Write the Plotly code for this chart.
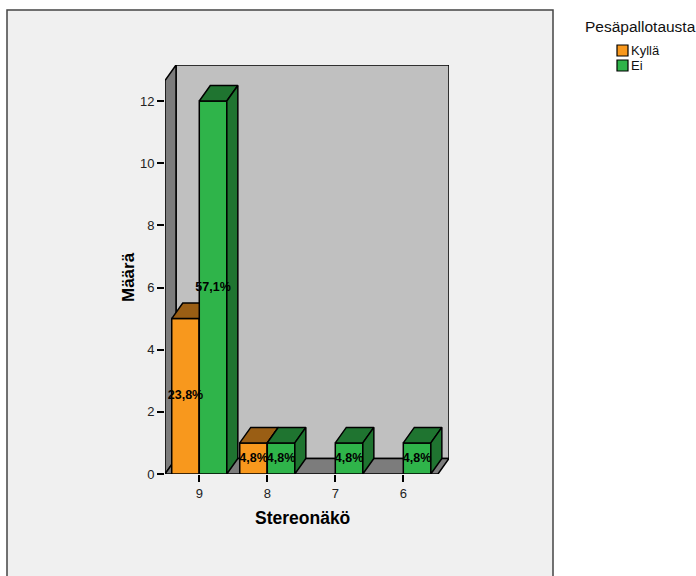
import plotly.graph_objects as go

# Data
categories = ["9", "8", "7", "6"]
kylla = [5, 1, 0, 0]
ei = [12, 1, 1, 1]
series_names = ["Kyllä", "Ei"]

total = sum(kylla) + sum(ei)

# Styling
W, H = 696, 576
PX_L, PX_R, PX_T, PX_B = 165, 449, 65, 474      # plot area in pixels
X0, X1 = -0.504, 3.672                           # x range (category units)
Y0, Y1 = 0.0, 13.16                              # y range (counts)
DX, DY = 0.162, 0.5                              # depth offset for 3D look
BAR_W = 0.405
FONT = "Liberation Sans, Arial"

front_col = ["#f8981d", "#2fb44a"]
dark_col = ["#9a5e14", "#1f7430"]
EDGE = dict(color="black", width=1.5)

fig = go.Figure()


def poly(xs, ys, color, line=EDGE):
    fig.add_trace(go.Scatter(
        x=list(xs) + [xs[0]], y=list(ys) + [ys[0]],
        mode="lines", fill="toself", fillcolor=color, line=line,
        hoverinfo="skip", showlegend=False, cliponaxis=False))


# Walls and floor
poly([X0 + DX, X1, X1, X0 + DX], [DY, DY, Y1, Y1], "#c0c0c0")
poly([X0, X0 + DX, X0 + DX, X0], [0, DY, Y1, Y1 - DY], "#7c7c7c")
poly([X0, X1 - DX, X1, X0 + DX], [0, 0, DY, DY], "#7c7c7c")

# 3D bars: orange to the left of each category centre, green to the right
labels_x, labels_y, labels_t = [], [], []
for i, _ in enumerate(categories):
    for s, vals in enumerate([kylla, ei]):
        h = vals[i]
        if h <= 0:
            continue
        xl = i - BAR_W if s == 0 else i
        xr = xl + BAR_W
        # front face
        poly([xl, xr, xr, xl], [0, 0, h, h], front_col[s])
        # top face
        poly([xl, xr, xr + DX, xl + DX], [h, h, h + DY, h + DY], dark_col[s])
        # side face
        poly([xr, xr + DX, xr + DX, xr], [0, DY, h + DY, h], dark_col[s])
        labels_x.append((xl + xr) / 2)
        labels_y.append(h / 2)
        labels_t.append(f"{100 * h / total:.1f}%".replace(".", ","))

fig.add_trace(go.Scatter(
    x=labels_x, y=labels_y, text=labels_t, mode="text",
    textfont=dict(family=FONT, size=12.5, color="black", weight="bold"),
    hoverinfo="skip", showlegend=False, cliponaxis=False))


def px_x(p):
    return (p - PX_L) / (PX_R - PX_L)


def px_y(p):
    return (PX_B - p) / (PX_B - PX_T)


shapes = [
    # outer chart frame
    dict(type="rect", xref="paper", yref="paper", layer="below",
         x0=px_x(7), x1=px_x(553), y0=px_y(590), y1=px_y(10),
         fillcolor="#f0f0f0", line=dict(color="#444444", width=1.5)),
]
annotations = [
    dict(text="Määrä", xref="paper", yref="paper", x=px_x(128), y=px_y(277),
         textangle=-90, showarrow=False, xanchor="center", yanchor="middle",
         font=dict(family=FONT, size=17, color="black", weight="bold")),
    dict(text="Stereonäkö", xref="paper", yref="paper", x=px_x(302), y=px_y(518),
         showarrow=False, xanchor="center", yanchor="middle",
         font=dict(family=FONT, size=17.5, color="black", weight="bold")),
    dict(text="Pesäpallotausta", xref="paper", yref="paper", x=px_x(583), y=px_y(27),
         showarrow=False, xanchor="left", yanchor="middle",
         font=dict(family=FONT, size=15.5, color="#111111")),
]

# Legend
for k, name in enumerate(series_names):
    top = 45 + 15 * k
    shapes.append(dict(type="rect", xref="paper", yref="paper",
                       x0=px_x(617), x1=px_x(628), y0=px_y(top + 11), y1=px_y(top),
                       fillcolor=front_col[k], line=dict(color="black", width=1.2)))
    annotations.append(dict(text=name, xref="paper", yref="paper",
                            x=px_x(629), y=px_y(top + 5.5), showarrow=False,
                            xanchor="left", yanchor="middle",
                            font=dict(family=FONT, size=13, color="#111111")))

fig.update_layout(
    width=W, height=H, autosize=False,
    margin=dict(l=PX_L, r=W - PX_R, t=PX_T, b=H - PX_B, pad=0),
    paper_bgcolor="white", plot_bgcolor="rgba(0,0,0,0)",
    shapes=shapes, annotations=annotations, showlegend=False,
    xaxis=dict(range=[X0, X1], tickmode="array", tickvals=list(range(len(categories))),
               ticktext=categories, ticks="outside", ticklen=7, tickwidth=1.5,
               tickcolor="black", showgrid=False, zeroline=False, showline=False,
               tickfont=dict(family=FONT, size=13, color="#222222"),
               fixedrange=True),
    yaxis=dict(range=[Y0, Y1], tickmode="array", tickvals=[0, 2, 4, 6, 8, 10, 12],
               ticks="outside", ticklen=7, tickwidth=1.5, tickcolor="black",
               showgrid=False, zeroline=False, showline=False,
               tickfont=dict(family=FONT, size=13, color="#222222"),
               fixedrange=True),
)

fig.write_html("out.html")
